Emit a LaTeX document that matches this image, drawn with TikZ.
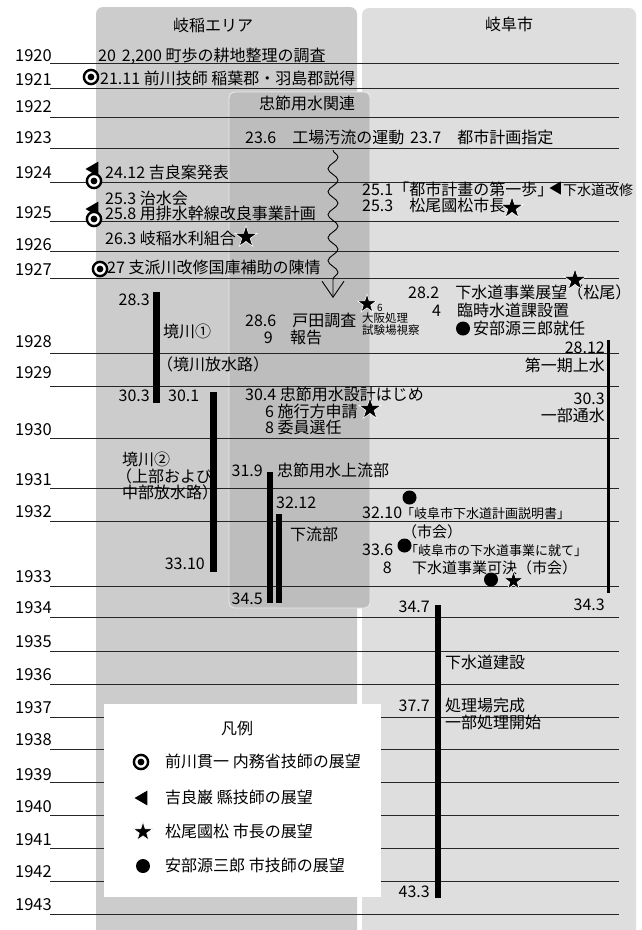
\documentclass[tikz,border=0pt]{standalone}
\usepackage{fontspec}
\setmainfont{Noto Sans CJK JP}
\usetikzlibrary{shapes.geometric,decorations.pathmorphing,arrows.meta}
\definecolor{leftgray}{gray}{0.80}
\definecolor{innergray}{gray}{0.74}
\definecolor{rightgray}{gray}{0.87}
\begin{document}
\begin{tikzpicture}[x=1pt,y=-1pt,
  txt/.style={font=\fontsize{16}{16}\selectfont, inner sep=0pt, anchor=base west},
  txtr/.style={txt, anchor=base east},
  smalltxt/.style={font=\fontsize{11.5}{11.5}\selectfont, inner sep=0pt, anchor=base west},
  midtxt/.style={font=\fontsize{13}{13}\selectfont, inner sep=0pt, anchor=base west},
  yearlab/.style={font=\fontsize{16.5}{16.5}\selectfont, inner sep=0pt, anchor=base east},
  yearline/.style={line width=1pt, black!85},
  bull/.style={circle, draw=black, line width=2.4pt, fill=white, minimum size=14.2pt, inner sep=0pt,
    path picture={\fill[black] (path picture bounding box.center) circle (3.4pt);}},
  tri/.style={regular polygon, regular polygon sides=3, shape border rotate=90, fill=black, minimum size=17pt, inner sep=0pt},
  starsym/.style={star, star points=5, star point ratio=2.6, fill=black, draw=white, line width=0.6pt, minimum size=23pt, inner sep=0pt},
  dotsym/.style={circle, fill=black, minimum size=14pt, inner sep=0pt},
  bar/.style={fill=black},
  wavy/.style={decorate, decoration={snake, amplitude=5pt, segment length=23pt, post length=14pt}, line width=0.9pt, -{Straight Barb[length=16pt,width=22pt]}},
  legendbox/.style={fill=white, minimum width=277pt, minimum height=193pt, inner sep=0pt, anchor=north west}
]
\useasboundingbox (0,0) rectangle (641,930);
\fill[white] (0,0) rectangle (641,930);
% panels
\fill[leftgray, rounded corners=7pt] (96,960) -- (96,7) -- (357,7) -- (357,960) -- cycle;
\fill[rightgray, rounded corners=7pt] (362,960) -- (362,8) -- (636,8) -- (636,960) -- cycle;
\filldraw[fill=innergray, draw=white!85!gray, line width=0.8pt, rounded corners=6pt] (229,92) rectangle (370,608);
% year lines
\foreach \yr/\ly/\by in {1920/63/61,1921/88/85,1922/117/112,1923/148/143,1924/182/178,1925/221/218,1926/251/250,1927/278/275,1928/353/347,1929/386/378,1930/438/435,1931/488/485,1932/521/517,1933/586/582,1934/617/613,1935/651/647,1936/684/680,1937/717/713,1938/749/745,1939/782/780,1940/815/812,1941/848/845,1942/881/877,1943/914/910}{
  \node[yearlab] (y\yr) at (52,\by) {\yr};
  \coordinate (ls\yr) at (50,\ly);
  \coordinate (le\yr) at (619,\ly);
  \draw[yearline] (ls\yr) -- (le\yr);
}
% legend
\node[legendbox] (leg) at (104,704) {};
\node[txt, anchor=base] (legT) at (237,734) {凡例};
\node[bull] (lg1) at (141,762) {};
\node[txt] (lgt1) at (165,767) {前川貫一 内務省技師の展望};
\node[tri] (lg2) at (143,798) {};
\node[txt] (lgt2) at (165,803) {吉良巌 縣技師の展望};
\node[starsym, minimum size=20pt] (lg3) at (143,832) {};
\node[txt] (lgt3) at (165,837) {松尾國松 市長の展望};
\node[dotsym] (lg4) at (143,866) {};
\node[txt] (lgt4) at (165,871) {安部源三郎 市技師の展望};
% headers
\node[txt, anchor=base] (hL) at (213,31) {岐稲エリア};
\node[txt, anchor=base] (hR) at (509,30) {岐阜市};
\node[txt, anchor=base] (hC) at (307,109) {忠節用水関連};
% left area texts
\node[txt] (t1) at (98,61) {20\hspace{6pt}2,200 町歩の耕地整理の調査};
\node[bull] (s1) at (91,77) {};
\node[txt] (t2) at (100,84) {21.11 前川技師 稲葉郡・羽島郡説得};
\node[tri] (s2a) at (94,169) {};
\node[bull] (s2b) at (94,181) {};
\node[txt] (t3) at (105,178) {24.12 吉良案発表};
\node[txt] (t4) at (105,204) {25.3 治水会};
\node[tri] (s3a) at (94,209) {};
\node[bull] (s3b) at (94,219) {};
\node[txt] (t5) at (105,219) {25.8 用排水幹線改良事業計画};
\node[txt] (t6) at (105,244) {26.3 岐稲水利組合};
\node[starsym] (s4) at (246,237) {};
\node[bull] (s5) at (100,269) {};
\node[txt] (t7) at (107,273) {27 支派川改修国庫補助の陳情};
\node[txtr] (t8) at (150,305) {28.3};
\fill[bar] (153,292) rectangle (160,403);
\node[txt] (t9) at (163,337) {境川①};
\node[txt] (t10) at (157,370) {（境川放水路）};
\node[txtr] (t11) at (150,401) {30.3};
\node[txt] (t12) at (168,401) {30.1};
\fill[bar] (210,392) rectangle (217,572);
\node[txt] (t13) at (122,465) {境川②};
\node[txt] (t14) at (116,482) {（上部および};
\node[txt] (t15) at (122,498) {中部放水路）};
\node[txtr] (t16) at (205,569) {33.10};
% inner area
\node[txt] (t17) at (245,143) {23.6\hspace{16pt}工場汚流の運動};
\coordinate (wavS) at (333,150);
\coordinate (wavE) at (333,298);
\draw[wavy] (wavS) -- (wavE);
\node[txt] (t18) at (245,326) {28.6\hspace{16pt}戸田調査};
\node[txtr] (t19) at (273,343) {9};
\node[txt] (t20) at (290,343) {報告};
\node[starsym, minimum size=20pt] (s6) at (367,304) {};
\node[font=\fontsize{10}{10}\selectfont, inner sep=0pt, anchor=base west] (t21) at (377,311) {6};
\node[smalltxt] (t22) at (362,322) {大阪処理};
\node[smalltxt] (t23) at (362,334) {試験場視察};
\node[txt] (t24) at (245,400) {30.4 忠節用水設計はじめ};
\node[txt] (t25) at (265,417) {6 施行方申請};
\node[starsym] (s7) at (370,409) {};
\node[txt] (t26) at (265,433) {8 委員選任};
\node[txtr] (t27) at (263,476) {31.9};
\node[txt] (t28) at (277,476) {忠節用水上流部};
\fill[bar] (267,472) rectangle (273,603);
\node[txt] (t29) at (276,508) {32.12};
\fill[bar] (276,514) rectangle (282,603);
\node[txt] (t30) at (290,540) {下流部};
\node[txtr] (t31) at (263,604) {34.5};
% right area
\node[txt] (t32) at (410,143) {23.7\hspace{16pt}都市計画指定};
\node[txt] (t33) at (362,195) {25.1「都市計畫の第一歩」};
\node[tri, minimum size=15pt] (s8) at (557,188) {};
\node[txt, font=\fontsize{14}{14}\selectfont] (t34) at (563,195) {下水道改修};
\node[txt] (t35) at (362,211) {25.3\hspace{16pt}松尾國松市長};
\node[starsym] (s9) at (512,208) {};
\node[txt] (t36) at (408,298) {28.2\hspace{16pt}下水道事業展望（松尾）};
\node[starsym] (s10) at (575,280) {};
\node[txt] (t37) at (432,316) {4\hspace{16pt}臨時水道課設置};
\node[dotsym] (s11) at (463,328.5) {};
\node[txt] (t38) at (473,334) {安部源三郎就任};
\node[txtr] (t39) at (605,353) {28.12};
\coordinate (vS) at (608.5,340);
\coordinate (vE) at (608.5,593);
\draw[line width=2.5pt] (vS) -- (vE);
\node[txtr] (t40) at (605,371) {第一期上水};
\node[txtr] (t41) at (605,404) {30.3};
\node[txtr] (t42) at (605,421) {一部通水};
\node[txtr] (t43) at (605,610) {34.3};
\node[dotsym] (s12) at (409.5,497.5) {};
\node[txt] (t44) at (362,518) {32.10};
\node[midtxt] (t45) at (401,518) {「岐阜市下水道計画説明書」};
\node[txt, font=\fontsize{15}{15}\selectfont] (t46) at (402,537) {（市会）};
\node[dotsym] (s13) at (404.5,545.5) {};
\node[txt] (t47) at (362,555) {33.6};
\node[midtxt] (t48) at (405,555) {「岐阜市の下水道事業に就て」};
\node[txtr] (t49) at (392,573) {8};
\node[txt, font=\fontsize{15}{15}\selectfont] (t50) at (412,573) {下水道事業可決（市会）};
\node[dotsym] (s14) at (491,579.5) {};
\node[starsym, minimum size=20pt] (s15) at (513.5,581) {};
\node[txtr] (t51) at (430,612) {34.7};
\fill[bar] (435,605) rectangle (441,898);
\node[txt] (t52) at (445,668) {下水道建設};
\node[txtr] (t53) at (430,711) {37.7};
\node[txt] (t54) at (445,711) {処理場完成};
\node[txt] (t55) at (445,728) {一部処理開始};
\node[txtr] (t56) at (430,897) {43.3};
\end{tikzpicture}
\end{document}
